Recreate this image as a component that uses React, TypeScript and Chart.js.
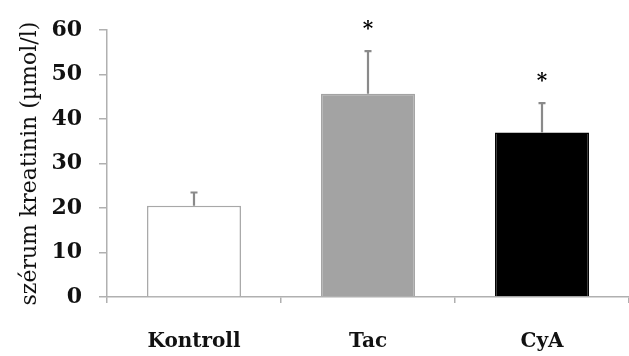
import React, { useEffect, useRef } from "react";
import { Chart, registerables } from "chart.js";

Chart.register(...registerables);

const categories = ["Kontroll", "Tac", "CyA"];
const means = [20.5, 45.7, 37.0];
const errors = [3.0, 9.6, 6.6];
const significant = [false, true, true];
const barColors = ["#ffffff", "#a3a3a3", "#000000"];
const borderColors = ["#a8a8a8", "#a3a3a3", "#000000"];
const yTitle = "szérum kreatinin (µmol/l)";

const errorPlugin = {
  id: "errorBars",
  afterDatasetsDraw(chart: any) {
    const ctx = chart.ctx;
    const y = chart.scales.y;
    const meta = chart.getDatasetMeta(0);
    ctx.save();
    meta.data.forEach((bar: any, i: number) => {
      const x = bar.x;
      const top = y.getPixelForValue(means[i]);
      const et = y.getPixelForValue(means[i] + errors[i]);
      ctx.strokeStyle = "#8a8a8a";
      ctx.lineWidth = 2.2;
      ctx.beginPath();
      ctx.moveTo(x, top);
      ctx.lineTo(x, et);
      ctx.moveTo(x - 3.5, et);
      ctx.lineTo(x + 3.5, et);
      ctx.stroke();
      if (significant[i]) {
        ctx.fillStyle = "#000";
        ctx.font = "bold 20px 'DejaVu Serif'";
        ctx.textAlign = "center";
        ctx.textBaseline = "alphabetic";
        const m = ctx.measureText("*");
        const h = m.actualBoundingBoxAscent - m.actualBoundingBoxDescent;
        const cy = et - 21;
        ctx.fillText("*", x, cy + m.actualBoundingBoxAscent - h / 2);
      }
    });
    ctx.restore();
  },
};

export default function App() {
  const ref = useRef<HTMLCanvasElement>(null);
  useEffect(() => {
    const chart = new Chart(ref.current!, {
      type: "bar",
      data: {
        labels: categories,
        datasets: [
          {
            data: means,
            backgroundColor: barColors,
            borderColor: borderColors,
            borderWidth: 1.5,
            categoryPercentage: 1,
            barPercentage: 0.54,
          },
        ],
      },
      options: {
        animation: false,
        responsive: false,
        maintainAspectRatio: false,
        layout: { padding: { top: 22, right: 0, left: 0, bottom: 0 } },
        plugins: { legend: { display: false }, tooltip: { enabled: false } },
        scales: {
          x: {
            offset: true,
            grid: {
              offset: true,
              drawOnChartArea: false,
              tickLength: 6,
              color: "#b0b0b0",
              lineWidth: 1.5,
            },
            border: { color: "#b0b0b0", width: 1.5 },
            ticks: {
              color: "#111",
              padding: 27,
              font: { family: "'DejaVu Serif'", size: 20, weight: "bold" },
            },
            afterFit: (s: any) => {
              s.height = 59;
            },
          },
          y: {
            min: 0,
            max: 60,
            grid: {
              drawOnChartArea: false,
              tickLength: 8,
              color: "#b0b0b0",
              lineWidth: 1.5,
            },
            border: { color: "#b0b0b0", width: 1.5 },
            ticks: {
              stepSize: 10,
              color: "#111",
              padding: 17,
              font: { family: "'DejaVu Serif'", size: 22, weight: "bold" },
            },
            title: {
              display: true,
              text: yTitle,
              color: "#111",
              font: { family: "'DejaVu Serif'", size: 22 },
              padding: { top: 17, bottom: 0 },
            },
            afterFit: (s: any) => {
              s.width = 107;
            },
          },
        },
      },
      plugins: [errorPlugin],
    });
    return () => chart.destroy();
  }, []);
  return (
    <div style={{ position: "absolute", left: 0, top: 0, width: 629, height: 356, background: "#fff" }}>
      <canvas ref={ref} width={629} height={356} />
    </div>
  );
}
